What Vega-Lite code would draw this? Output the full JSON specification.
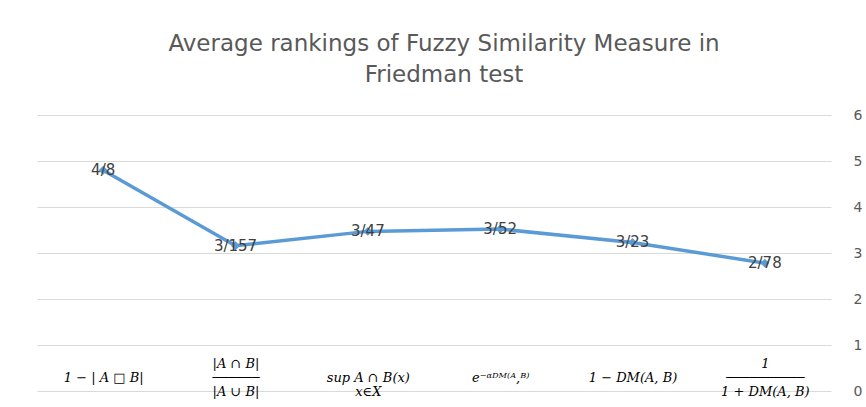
{
  "$schema": "https://vega.github.io/schema/vega-lite/v6.json",
  "width": 794,
  "height": 276,
  "autosize": {"type": "none"},
  "padding": {"left": 37, "right": 35, "top": 115, "bottom": 16},
  "background": "white",
  "config": {"view": {"stroke": null}},
  "title": {
    "text": ["Average rankings of Fuzzy Similarity Measure in", "Friedman test"],
    "font": "DejaVu Sans",
    "fontSize": 23,
    "fontWeight": "normal",
    "color": "#595959",
    "anchor": "middle",
    "dx": 10,
    "offset": 21,
    "lineHeight": 31
  },
  "data": {
    "values": [
      {"measure": "\n1 − | A □ B|\n", "rank": 4.8, "label": "4/8"},
      {"measure": "|A ∩ B|\n──────\n|A ∪ B|", "rank": 3.157, "label": "3/157"},
      {"measure": "\nsup A ∩ B(x)\nx∈X              ", "rank": 3.47, "label": "3/47"},
      {"measure": "\ne⁻ᵅᴰᴹ⁽ᴬ,ᴮ⁾\n", "rank": 3.52, "label": "3/52"},
      {"measure": "\n1 − DM(A, B)\n", "rank": 3.23, "label": "3/23"},
      {"measure": "1\n──────────\n1 + DM(A, B)", "rank": 2.78, "label": "2/78"}
    ]
  },
  "encoding": {
    "x": {
      "field": "measure",
      "type": "nominal",
      "sort": null,
      "scale": {"type": "point", "padding": 0.5},
      "axis": {
        "title": null,
        "domain": false,
        "ticks": false,
        "grid": false,
        "labelAngle": 0,
        "labelExpr": "split(datum.label, '\\n')",
        "labelFont": "DejaVu Serif",
        "labelFontStyle": "italic",
        "labelFontSize": 13,
        "labelColor": "#000000",
        "labelBaseline": "top",
        "labelLineHeight": 14,
        "labelPadding": -34,
        "labelOverlap": false,
        "labelBound": false
      }
    },
    "y": {
      "field": "rank",
      "type": "quantitative",
      "scale": {"domain": [0, 6]},
      "axis": {
        "orient": "right",
        "title": null,
        "values": [0, 1, 2, 3, 4, 5, 6],
        "domain": false,
        "ticks": false,
        "gridColor": "#d9d9d9",
        "gridWidth": 1,
        "labelFont": "DejaVu Sans",
        "labelFontSize": 14,
        "labelColor": "#595959",
        "labelPadding": 22
      }
    }
  },
  "layer": [
    {
      "mark": {"type": "line", "color": "#5B9BD5", "strokeWidth": 3.5}
    },
    {
      "mark": {"type": "point", "shape": "diamond", "filled": true, "color": "#5B9BD5", "size": 80, "opacity": 1}
    },
    {
      "mark": {"type": "text", "font": "DejaVu Sans", "fontSize": 15, "color": "#404040", "baseline": "middle", "align": "center"},
      "encoding": {"text": {"field": "label"}}
    }
  ]
}
